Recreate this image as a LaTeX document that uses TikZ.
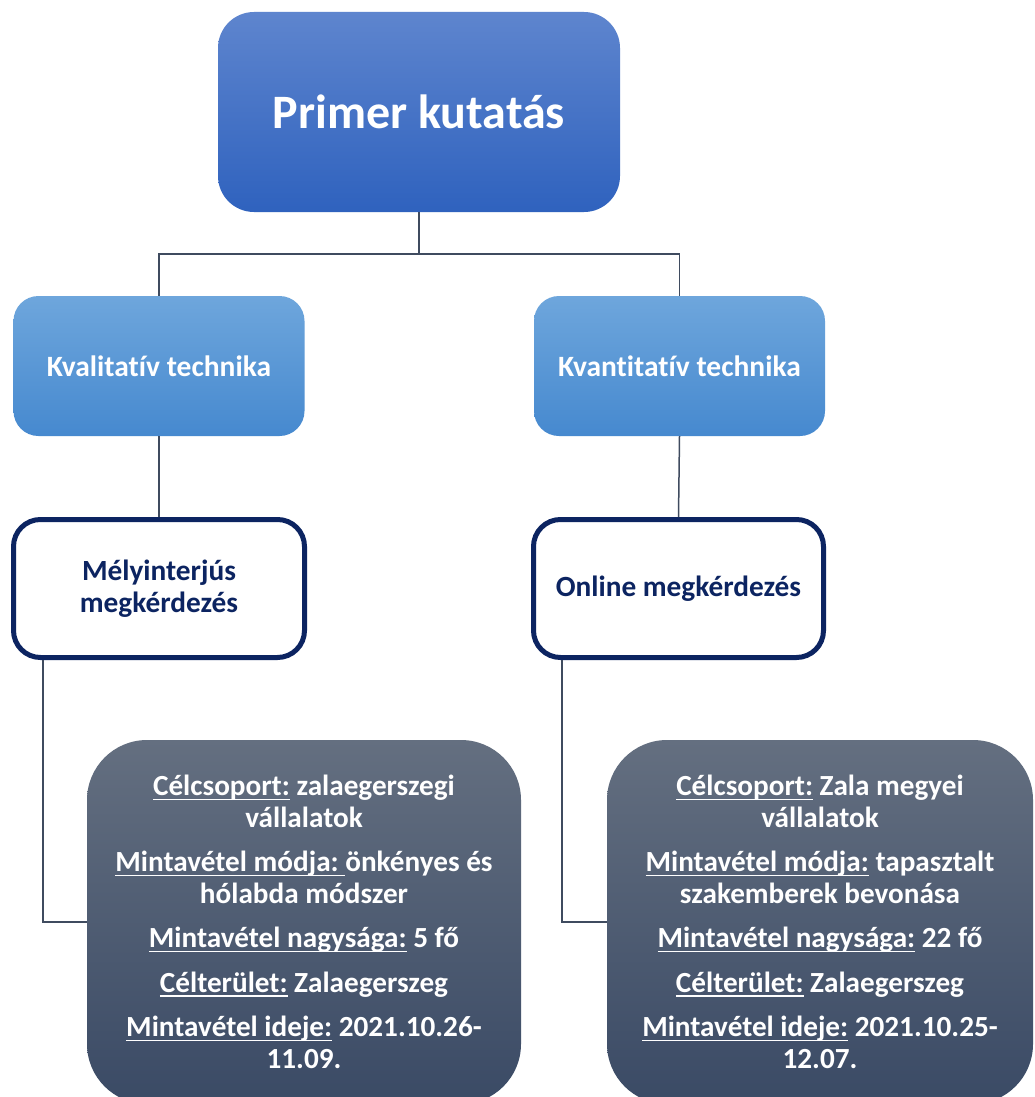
\documentclass[tikz,border=0pt]{standalone}
\usepackage{fontspec}
\setmainfont{Carlito}[Ligatures=NoCommon]
\newcommand{\myul}[1]{\leavevmode\setbox0\hbox{#1}\rlap{\rule[-4.2pt]{\wd0}{1.6pt}}\box0\relax}
\definecolor{conncol}{HTML}{3F4B5F}
\definecolor{navy}{HTML}{0C2461}
\definecolor{topA}{HTML}{5E85CE}
\definecolor{topB}{HTML}{2F62BE}
\definecolor{midA}{HTML}{6EA6DC}
\definecolor{midB}{HTML}{4689CF}
\definecolor{botA}{HTML}{646F80}
\definecolor{botB}{HTML}{3A4A65}
\tikzset{
  conn/.style={draw=conncol, line width=1.5pt},
  topbox/.style={rectangle, rounded corners=36pt, top color=topA, bottom color=topB,
    minimum width=402pt, minimum height=200pt, inner sep=0pt, text=white,
    font=\fontsize{48}{58}\selectfont\bfseries},
  techbox/.style={rectangle, rounded corners=25pt, top color=midA, bottom color=midB,
    minimum width=291pt, minimum height=140pt, inner sep=0pt, text=white,
    font=\fontsize{29.5}{35}\selectfont\bfseries},
  methodbox/.style={rectangle, rounded corners=27pt, draw=navy, line width=5pt, fill=white,
    minimum width=291pt, minimum height=138pt, inner sep=0pt, text=navy, align=center,
    font=\fontsize{29.3}{31.7}\selectfont\bfseries},
  infobox/.style={rectangle, rounded corners=60pt, top color=botA, bottom color=botB,
    minimum height=364pt, inner sep=0pt, text=white, align=center,
    font=\fontsize{29.2}{31.5}\selectfont\bfseries},
}
\begin{document}
\begin{tikzpicture}[x=1pt,y=-1pt]
\useasboundingbox (0,0) rectangle (1035,1097);
\clip (0,0) rectangle (1035,1097);
\fill[white] (0,0) rectangle (1035,1097);

\node[topbox] (top) at (419,112) {Primer kutatás};
\node[techbox] (kval) at (159,366) {Kvalitatív technika};
\node[techbox] (kvant) at (679.5,366) {Kvantitatív technika};
\node[methodbox] (mely) at (159,588.5) {Mélyinterjús\\megkérdezés};
\node[methodbox, minimum width=290pt] (online) at (678.5,588.5) {Online megkérdezés};

\node[infobox, minimum width=434pt] (bl) at (304,922) {%
\myul{Célcsoport:} zalaegerszegi\\ vállalatok\\[13pt]
\myul{Mintavétel módja:\ }önkényes és\\ hólabda módszer\\[13pt]
\myul{Mintavétel nagysága:} 5 fő\\[13pt]
\myul{Célterület:} Zalaegerszeg\\[13pt]
\myul{Mintavétel ideje:} 2021.10.26-\\ 11.09.};

\node[infobox, minimum width=426pt] (br) at (820,922) {%
\myul{Célcsoport:} Zala megyei\\ vállalatok\\[13pt]
\myul{Mintavétel módja:} tapasztalt\\ szakemberek bevonása\\[13pt]
\myul{Mintavétel nagysága:} 22 fő\\[13pt]
\myul{Célterület:} Zalaegerszeg\\[13pt]
\myul{Mintavétel ideje:} 2021.10.25-\\ 12.07.};

\coordinate (j) at (419,254);
\coordinate (lx) at (43,0);
\coordinate (rx) at (562,0);

\draw[conn] (top.south) -- (j);
\draw[conn] (kval.north) |- (j);
\draw[conn] (kvant.north) |- (j);
\draw[conn] (kval.south) -- (mely.north);
\draw[conn] (kvant.south) -- (online.north);
\draw[conn] (mely.south -| lx) |- (bl.west);
\draw[conn] (online.south -| rx) |- (br.west);
\end{tikzpicture}
\end{document}
